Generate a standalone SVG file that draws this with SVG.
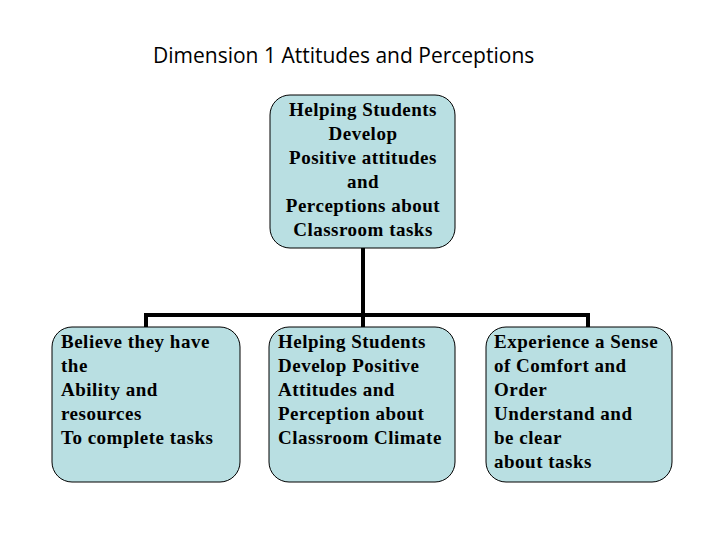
<svg xmlns="http://www.w3.org/2000/svg" width="720" height="540" viewBox="0 0 720 540">
<style>
.box{fill:#b9dfe2;stroke:#000;stroke-width:1}
.t{font-family:"Liberation Serif","Times New Roman",serif;font-weight:bold;font-size:19px;letter-spacing:0.5px;fill:#000}
.c{text-anchor:middle}
.title{font-family:"Open Sans","Liberation Sans",sans-serif;font-size:21px;fill:#000}
.conn{stroke:#000;stroke-width:4;fill:none}
</style>
<rect width="720" height="540" fill="#fff"/>
<text class="title" x="153" y="63">Dimension 1 Attitudes and Perceptions</text>
<g id="connectors">
<path class="conn" d="M363,248 V327"/>
<path class="conn" d="M146,327 V315 H588 V327"/>
</g>
<g id="top">
<rect class="box" x="270" y="95" width="185" height="153" rx="20"/>
<text class="t c" x="363" y="116">Helping Students</text>
<text class="t c" x="363" y="140">Develop</text>
<text class="t c" x="363" y="164">Positive attitudes</text>
<text class="t c" x="363" y="188">and</text>
<text class="t c" x="363" y="212">Perceptions about</text>
<text class="t c" x="363" y="236">Classroom tasks</text>
</g>
<g id="left">
<rect class="box" x="52" y="327" width="188" height="155" rx="20"/>
<text class="t" x="61" y="348">Believe they have</text>
<text class="t" x="61" y="372">the</text>
<text class="t" x="61" y="396">Ability and</text>
<text class="t" x="61" y="420">resources</text>
<text class="t" x="61" y="444">To complete tasks</text>
</g>
<g id="middle">
<rect class="box" x="269" y="327" width="186" height="155" rx="20"/>
<text class="t" x="278" y="348">Helping Students</text>
<text class="t" x="278" y="372">Develop Positive</text>
<text class="t" x="278" y="396">Attitudes and</text>
<text class="t" x="278" y="420">Perception about</text>
<text class="t" x="278" y="444">Classroom Climate</text>
</g>
<g id="right">
<rect class="box" x="486" y="327" width="186" height="155" rx="20"/>
<text class="t" x="494" y="348">Experience a Sense</text>
<text class="t" x="494" y="372">of Comfort and</text>
<text class="t" x="494" y="396">Order</text>
<text class="t" x="494" y="420">Understand and</text>
<text class="t" x="494" y="444">be clear</text>
<text class="t" x="494" y="468">about tasks</text>
</g>
</svg>
